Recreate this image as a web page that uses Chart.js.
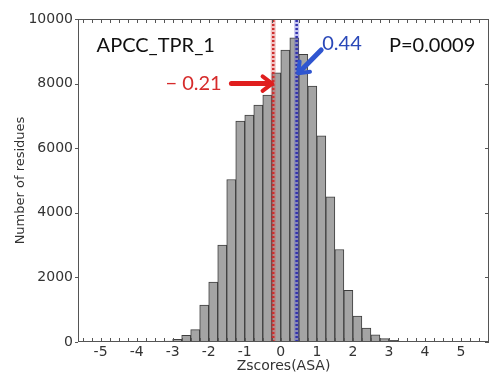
<!DOCTYPE html>
<html>
<head>
<meta charset="utf-8">
<script src="https://cdn.jsdelivr.net/npm/chart.js@4.4.0/dist/chart.umd.min.js"></script>
<style>
  html, body { margin: 0; padding: 0; background: #fff; }
  canvas { display: block; }
</style>
</head>
<body>
<canvas id="chart" width="491" height="376"></canvas>
<script>
// histogram of Z-scores, bins 0.25 wide
const BIN_CENTERS = [-3.375, -3.125, -2.875, -2.625, -2.375, -2.125, -1.875, -1.625, -1.375, -1.125,
  -0.875, -0.625, -0.375, -0.125, 0.125, 0.375, 0.625, 0.875, 1.125, 1.375,
  1.625, 1.875, 2.125, 2.375, 2.625, 2.875, 3.125, 3.375];
const COUNTS = [10, 30, 80, 210, 385, 1145, 1855, 3000, 5030, 6840,
  7025, 7335, 7645, 8335, 9040, 9420, 8905, 7925, 6385, 4495,
  2865, 1600, 805, 430, 220, 105, 55, 20];
const Y_LIMITS = [0, 10000];
const SAMPLE_SCORE = -0.21;   // red marker
const MEAN_SCORE = 0.44;      // blue marker
const TITLE = 'APCC_TPR_1';
const P_VALUE = 'P=0.0009';

const RED = '#d62b2b', BLUE = '#2a48b8';
const tickFont = { family: 'DejaVu Sans', size: 14 };

function vline(v, color, width, dash) {
  return {
    type: 'line', order: 1,
    data: [{ x: v, y: Y_LIMITS[0] }, { x: v, y: Y_LIMITS[1] }],
    borderColor: color, borderWidth: width, borderDash: dash,
    pointRadius: 0, fill: false
  };
}

function arrow(ctx, x1, y1, x2, y2, color) {
  const ang = Math.atan2(y2 - y1, x2 - x1), L = 12;
  ctx.save();
  ctx.strokeStyle = color; ctx.lineCap = 'round'; ctx.lineJoin = 'round';
  ctx.lineWidth = 5;
  ctx.beginPath(); ctx.moveTo(x1, y1); ctx.lineTo(x2 - 3 * Math.cos(ang), y2 - 3 * Math.sin(ang)); ctx.stroke();
  ctx.lineWidth = 4;
  ctx.beginPath();
  ctx.moveTo(x2 - L * Math.cos(ang - 0.65), y2 - L * Math.sin(ang - 0.65));
  ctx.lineTo(x2, y2);
  ctx.lineTo(x2 - L * Math.cos(ang + 0.65), y2 - L * Math.sin(ang + 0.65));
  ctx.stroke();
  ctx.restore();
}

const frame = {
  id: 'frame',
  afterDatasetsDraw(chart) {
    const { ctx, chartArea: a, scales: { x, y } } = chart;
    ctx.save();
    ctx.strokeStyle = '#555'; ctx.lineWidth = 1;
    ctx.strokeRect(a.left + 0.5, a.top + 0.5, a.right - a.left - 1, a.bottom - a.top - 1);
    ctx.beginPath();
    x.ticks.forEach(t => {
      const px = Math.round(x.getPixelForValue(t.value)) + 0.5;
      ctx.moveTo(px, a.bottom); ctx.lineTo(px, a.bottom - 4);
      ctx.moveTo(px, a.top); ctx.lineTo(px, a.top + 4);
    });
    y.ticks.forEach(t => {
      const py = Math.round(y.getPixelForValue(t.value)) + 0.5;
      ctx.moveTo(a.left - 3, py); ctx.lineTo(a.left, py);
      ctx.moveTo(a.right, py); ctx.lineTo(a.right - 4, py);
    });
    ctx.stroke();

    // labels and arrows
    ctx.textBaseline = 'middle';
    ctx.font = '20px Lato';
    ctx.fillStyle = '#111';
    ctx.textAlign = 'left';
    ctx.fillText(TITLE, x.getPixelForValue(-5.11), y.getPixelForValue(9180));
    ctx.fillText(P_VALUE, x.getPixelForValue(3.0), y.getPixelForValue(9180));
    ctx.fillStyle = BLUE;
    ctx.fillText(MEAN_SCORE.toFixed(2), x.getPixelForValue(1.15), y.getPixelForValue(9240));
    ctx.fillStyle = RED;
    ctx.textAlign = 'right';
    ctx.fillText('\u2212 ' + Math.abs(SAMPLE_SCORE).toFixed(2), x.getPixelForValue(-1.64), y.getPixelForValue(8000));

    arrow(ctx, x.getPixelForValue(-1.37), y.getPixelForValue(8000), x.getPixelForValue(-0.24), y.getPixelForValue(8000), '#e01e1e');
    arrow(ctx, x.getPixelForValue(1.12), y.getPixelForValue(9040), x.getPixelForValue(0.48), y.getPixelForValue(8317), '#2f55d0');
    ctx.restore();
  }
};

new Chart(document.getElementById('chart'), {
  type: 'bar',
  data: {
    datasets: [
      vline(SAMPLE_SCORE, 'rgba(214,80,80,0.35)', 5, []),
      vline(SAMPLE_SCORE, '#c81e1e', 2.5, [2, 2]),
      vline(MEAN_SCORE, 'rgba(90,90,210,0.35)', 5, []),
      vline(MEAN_SCORE, '#1c1c9a', 2.5, [2, 2]),
      {
        type: 'bar', order: 2,
        data: BIN_CENTERS.map((c, i) => ({ x: c, y: COUNTS[i] })),
        backgroundColor: '#a4a4a4', borderColor: '#3e3e3e', borderWidth: 1,
        barPercentage: 1, categoryPercentage: 1
      }
    ]
  },
  options: {
    responsive: false, animation: false,
    layout: { padding: { top: 19, right: 2, left: 0, bottom: 0 } },
    plugins: { legend: { display: false }, tooltip: { enabled: false } },
    scales: {
      x: {
        type: 'linear', min: -5.5, max: 5.65,
        grid: { display: false, drawTicks: false }, border: { display: false },
        ticks: {
          stepSize: 0.25, includeBounds: false, autoSkip: false, maxRotation: 0,
          padding: 2, color: '#333', font: tickFont,
          callback: v => Number.isInteger(v) ? String(v) : ''
        },
        title: { display: true, text: 'Zscores(ASA)', color: '#333', font: { family: 'DejaVu Sans', size: 14 }, padding: { top: 0, bottom: 1 } },
        afterFit: s => { s.height = 34; }
      },
      y: {
        min: Y_LIMITS[0], max: Y_LIMITS[1],
        grid: { display: false, drawTicks: false }, border: { display: false },
        ticks: { stepSize: 2000, padding: 5, color: '#333', font: tickFont, callback: v => String(v) },
        title: { display: true, text: 'Number of residues', color: '#333', font: { family: 'DejaVu Sans', size: 13 }, padding: { top: 13, bottom: 0 } },
        afterFit: s => { s.width = 78; }
      }
    }
  },
  plugins: [frame]
});
</script>
</body>
</html>
